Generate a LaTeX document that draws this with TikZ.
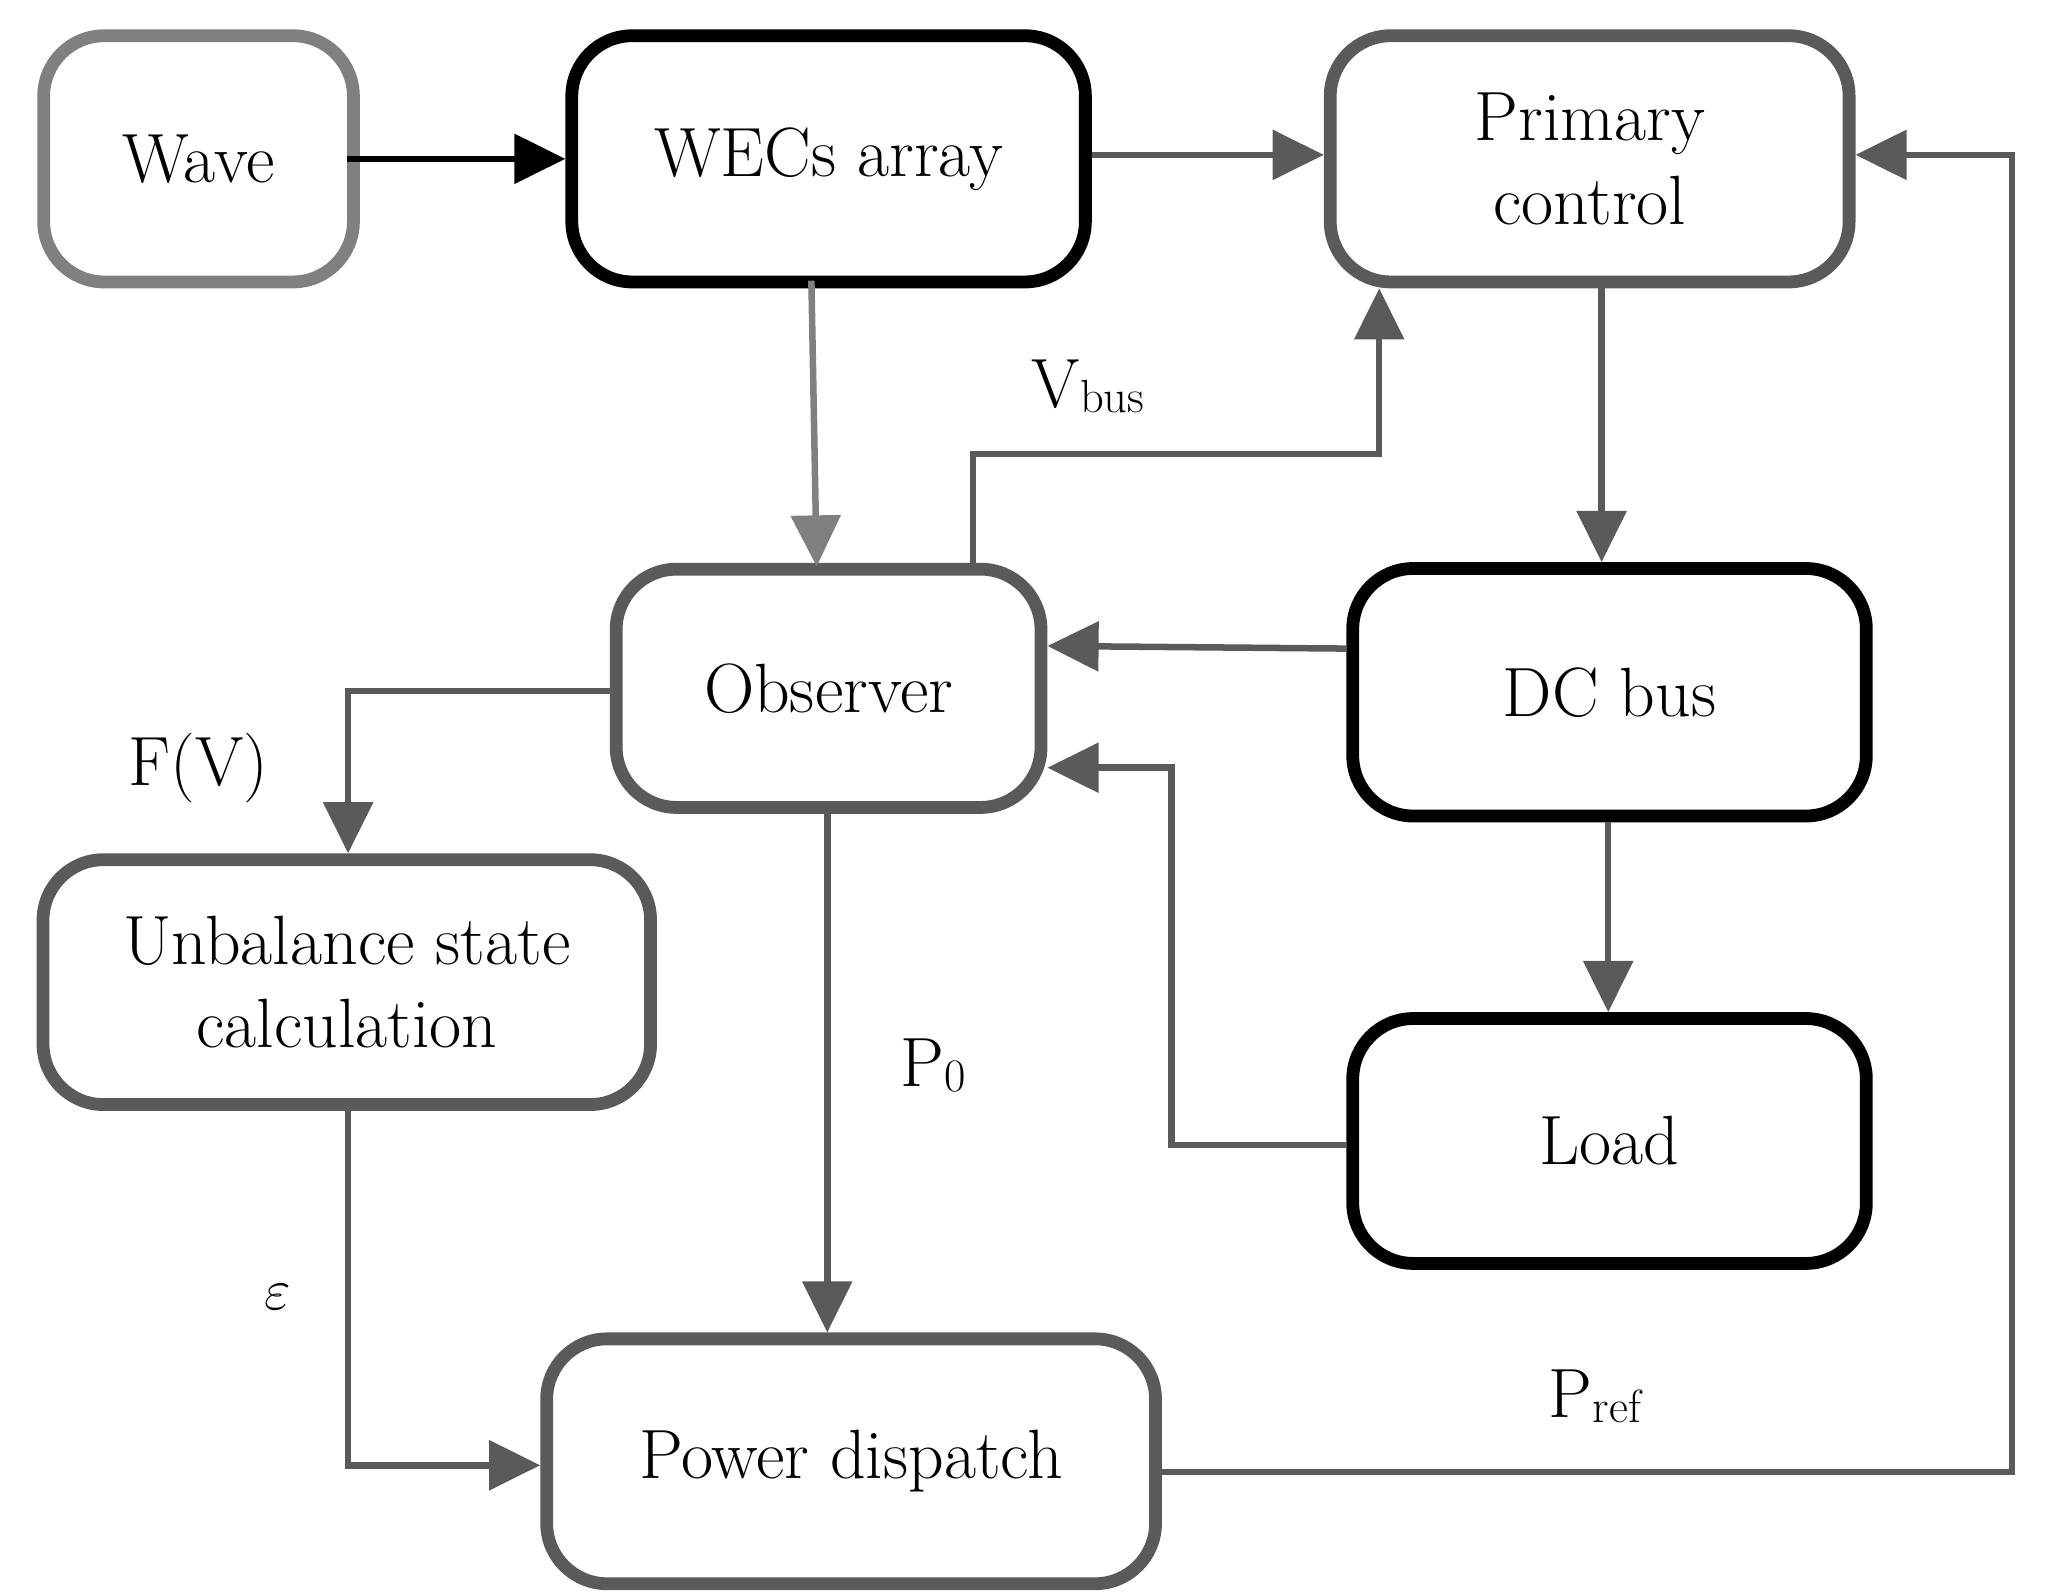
\documentclass[tikz,border=0pt]{standalone}
\usetikzlibrary{arrows.meta}
\definecolor{lg}{HTML}{808080}
\definecolor{dg}{HTML}{5A5A5A}
\begin{document}
\begin{tikzpicture}[x=0.02cm,y=-0.02cm,
  box/.style={draw,line width=5.5pt,rounded corners=26pt,fill=white,align=center,
    font=\fontsize{30}{36}\selectfont},
  arr/.style={line width=2.8pt,dg,-{Triangle[length=22pt,width=21pt]}},
  lbl/.style={font=\fontsize{30}{36}\selectfont}]
\useasboundingbox (0,0) rectangle (1545,1204);
\node[box,draw=lg,minimum width=234*0.02cm,minimum height=186*0.02cm] (wave) at (150,120) {Wave};
\node[box,draw=black,minimum width=388*0.02cm,minimum height=186*0.02cm] (wec) at (626,120) {WECs array};
\node[box,draw=dg,minimum width=392*0.02cm,minimum height=186*0.02cm] (prim) at (1201,120) {Primary\\control};
\node[box,draw=dg,minimum width=321*0.02cm,minimum height=180*0.02cm] (obs) at (626,520) {Observer};
\node[box,draw=black,minimum width=388*0.02cm,minimum height=187*0.02cm] (dc) at (1216,523) {DC bus};
\node[box,draw=dg,minimum width=459*0.02cm,minimum height=185*0.02cm] (unb) at (262,742) {Unbalance state\\calculation};
\node[box,draw=black,minimum width=388*0.02cm,minimum height=185*0.02cm] (load) at (1216,862) {Load};
\node[box,draw=dg,minimum width=460*0.02cm,minimum height=185*0.02cm] (pd) at (643,1104) {Power dispatch};
\coordinate (a1) at (735,343); \coordinate (a2) at (1042,343);
\coordinate (b1) at (885,865); \coordinate (b2) at (885,580);
\coordinate (c1) at (263,522);
\coordinate (d1) at (263,1107);
\coordinate (e1) at (1520,1112); \coordinate (e2) at (1520,117);
\draw[line width=2.8pt,black,-{Triangle[length=22pt,width=21pt]}] (262,120) -- (wec.west |- 0,120);
\draw[arr] (wec.east |- 0,117) -- (prim.west |- 0,117);
\draw[arr,lg] (613,212) -- (617,428);
\draw[arr] (obs.north -| a1) -- (a1) -- (a2) -- (prim.south -| a2);
\draw[arr] (prim.south -| 1210,0) -- (dc.north -| 1210,0);
\draw[arr] (dc.west |- 0,490) -- (obs.east |- 0,488);
\draw[arr] (load.west |- b1) -- (b1) -- (b2) -- (obs.east |- b2);
\draw[arr] (dc.south -| 1215,0) -- (load.north -| 1215,0);
\draw[arr] (obs.west |- c1) -- (c1) -- (unb.north -| c1);
\draw[arr] (obs.south -| 625,0) -- (pd.north -| 625,0);
\draw[arr] (unb.south -| d1) -- (d1) -- (pd.west |- d1);
\draw[arr] (pd.east |- e1) -- (e1) -- (e2) -- (prim.east |- e2);
\node[lbl] (vb) at (822,292) {V\raisebox{-2pt}{\fontsize{20}{24}\selectfont bus}};
\node[lbl] (fv) at (150,580) {F(V)};
\node[lbl] (p0) at (705,805) {P\raisebox{-2pt}{\fontsize{20}{24}\selectfont 0}};
\node[lbl] (eps) at (210,980) {$\varepsilon$};
\node[lbl] (pr) at (1205,1055) {P\raisebox{-2pt}{\fontsize{20}{24}\selectfont ref}};
\end{tikzpicture}
\end{document}
